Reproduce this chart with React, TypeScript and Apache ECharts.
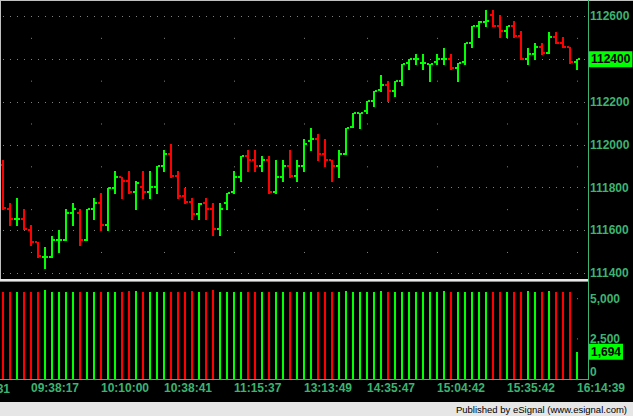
import React, { useEffect, useRef } from 'react';
import * as echarts from 'echarts';

// ---- data ----
const opens = [
  111905, 111700, 111655, 111655, 111600, 111545, 111475, 111475, 111555, 111555,
  111680, 111680, 111555, 111700, 111730, 111625, 111800, 111850, 111830, 111780,
  111805, 111780, 111805, 111900, 111955, 111855, 111760, 111735, 111675, 111730,
  111700, 111605, 111730, 111780, 111850, 111950, 111930, 111900, 111930, 111780,
  111850, 111900, 111855, 111900, 112020, 112025, 111955, 111930, 111900, 111955,
  112085, 112150, 112160, 112205, 112255, 112280, 112250, 112300, 112380, 112400,
  112380, 112375, 112385, 112400, 112400, 112360, 112385, 112475, 112555, 112575,
  112605, 112555, 112530, 112555, 112510, 112400, 112425, 112455, 112430, 112505,
  112475, 112455, 112385,
];
const highs = [
  111930, 111730, 111750, 111700, 111625, 111545, 111525, 111575, 111600, 111700,
  111730, 111700, 111700, 111750, 111775, 111800, 111880, 111850, 111880, 111830,
  111880, 111880, 111900, 111975, 112005, 111880, 111800, 111750, 111730, 111750,
  111730, 111730, 111775, 111880, 111950, 111975, 111975, 111950, 111950, 111930,
  111930, 111975, 111930, 112025, 112080, 112050, 112025, 111930, 111975, 112080,
  112150, 112150, 112205, 112250, 112325, 112300, 112300, 112375, 112400, 112425,
  112425, 112375, 112425, 112450, 112425, 112380, 112475, 112555, 112580, 112630,
  112630, 112605, 112555, 112580, 112530, 112450, 112475, 112475, 112525, 112525,
  112505, 112455, 112400,
];
const lows = [
  111700, 111625, 111625, 111605, 111530, 111475, 111425, 111475, 111500, 111555,
  111625, 111530, 111555, 111655, 111600, 111600, 111775, 111750, 111775, 111700,
  111750, 111750, 111775, 111880, 111850, 111750, 111730, 111655, 111655, 111655,
  111580, 111580, 111700, 111775, 111830, 111880, 111880, 111880, 111775, 111775,
  111830, 111850, 111830, 111880, 111975, 111930, 111900, 111830, 111850, 111955,
  112085, 112080, 112150, 112180, 112250, 112205, 112230, 112280, 112355, 112375,
  112355, 112300, 112375, 112375, 112355, 112300, 112375, 112455, 112505, 112555,
  112555, 112505, 112505, 112505, 112400, 112375, 112400, 112425, 112430, 112475,
  112455, 112380, 112355,
];
const closes = [
  111705, 111655, 111655, 111605, 111545, 111480, 111475, 111555, 111555, 111680,
  111700, 111555, 111700, 111730, 111625, 111800, 111850, 111830, 111780, 111820,
  111780, 111805, 111900, 111955, 111855, 111760, 111735, 111675, 111725, 111700,
  111605, 111700, 111775, 111850, 111950, 111930, 111900, 111930, 111780, 111850,
  111900, 111855, 111900, 112005, 112025, 111955, 111930, 111900, 111955, 112080,
  112150, 112150, 112205, 112250, 112280, 112250, 112300, 112375, 112400, 112400,
  112380, 112375, 112400, 112400, 112360, 112380, 112475, 112555, 112575, 112580,
  112555, 112530, 112555, 112510, 112400, 112425, 112455, 112430, 112505, 112475,
  112455, 112385, 112400,
];
const volumes = [
  5380, 5380, 5380, 5380, 5380, 5380, 5540, 5380, 5380, 5380,
  5380, 5380, 5380, 5380, 5380, 5380, 5380, 5380, 5460, 5460,
  5380, 5380, 5380, 5380, 5380, 5380, 5380, 5460, 5380, 5380,
  5540, 5380, 5380, 5380, 5380, 5380, 5380, 5380, 5380, 5380,
  5380, 5380, 5380, 5380, 5380, 5380, 5380, 5380, 5380, 5460,
  5380, 5380, 5380, 5380, 5460, 5380, 5380, 5380, 5380, 5380,
  5380, 5380, 5380, 5460, 5380, 5380, 5380, 5380, 5380, 5380,
  5380, 5380, 5380, 5380, 5380, 5460, 5380, 5380, 5460, 5380,
  5380, 5380, 1694,
];
const timeLabelBars = [4, 14, 23, 33, 43, 52, 62, 72, 82];
const timeLabels = ['09:38:17', '10:10:00', '10:38:41', '11:15:37', '13:13:49', '14:35:47', '15:04:42', '15:35:42', '16:14:39'];
const cutOffLabel = '09:09:31';
const priceTicks = [111400, 111600, 111800, 112000, 112200, 112400, 112600];
const volumeTicks = [0, 2500, 5000];
const footerText = 'Published by eSignal (www.esignal.com)';

// ---- styles ----
const GREEN = '#00ff00';
const RED = '#ff0000';
const AXIS = '#3cb371';
const GRID = '#808080';
const FONT = '"Liberation Sans", Arial, sans-serif';

export default function App() {
  const ref = useRef<HTMLDivElement>(null);

  useEffect(() => {
    const chart = echarts.init(ref.current as HTMLDivElement, null, { renderer: 'svg' });
    const n = closes.length;
    const ohlc = closes.map((c, i) => [i, opens[i], highs[i], lows[i], c]);
    const vol = volumes.map((v, i) => [i, v, closes[i] >= opens[i] ? 1 : 0]);
    const xMin = -3 / 7;
    const xMax = 84 - 3 / 7;
    const lastClose = closes[n - 1];
    const lastVol = volumes[n - 1];

    const labelFont = { color: AXIS, fontWeight: 'bold', fontSize: 12, fontFamily: FONT };
    const boxLabel = {
      show: true,
      position: 'end',
      distance: 1,
      backgroundColor: GREEN,
      color: '#000',
      fontWeight: 'bold',
      fontSize: 12,
      fontFamily: FONT,
      lineHeight: 12,
      padding: [2, 2, 2, 2],
      opacity: 1,
    };
    const hiddenLine = { color: 'rgba(0,0,0,0)', width: 1, type: 'solid' };

    const option: any = {
      animation: false,
      backgroundColor: '#000',
      grid: [
        { left: 0, right: 45, top: 2, height: 277 },
        { left: 0, right: 45, top: 283, height: 96 },
      ],
      xAxis: [
        {
          type: 'value', gridIndex: 0, min: xMin, max: xMax,
          axisLine: { show: false },
          axisTick: { show: false, customValues: timeLabelBars },
          axisLabel: { show: false },
          splitLine: { show: true, lineStyle: { color: GRID, width: 1, type: [1, 41.83], dashOffset: 7.03 } },
        },
        {
          type: 'value', gridIndex: 1, min: xMin, max: xMax,
          axisLine: { show: true, lineStyle: { color: AXIS, width: 1 } },
          axisTick: { show: false, customValues: timeLabelBars },
          axisLabel: {
            customValues: timeLabelBars,
            formatter: (v: number) => timeLabels[timeLabelBars.indexOf(v)] ?? '',
            align: 'left',
            margin: 3,
            ...labelFont,
          },
          splitLine: { show: true, lineStyle: { color: GRID, width: 1, type: [1, 39.2], dashOffset: 24.7 } },
        },
      ],
      yAxis: [
        {
          type: 'value', gridIndex: 0, position: 'right', min: 111373.4, max: 112666.8,
          axisLine: { show: false },
          axisTick: { show: false, customValues: priceTicks },
          axisLabel: { customValues: priceTicks, margin: 2, formatter: (v: number) => String(v), ...labelFont },
          splitLine: { show: true, lineStyle: { color: GRID, width: 1, type: [1, 6], dashOffset: 4 } },
        },
        {
          type: 'value', gridIndex: 1, position: 'right', min: 0, max: 5963,
          axisLine: { show: false },
          axisTick: { show: false, customValues: volumeTicks },
          axisLabel: {
            customValues: volumeTicks, margin: 2,
            formatter: (v: number) => (v === 0 ? '{z|0}' : v.toLocaleString('en-US')),
            rich: { z: { ...labelFont, padding: [0, 0, 14, 0] } },
            ...labelFont,
          },
          splitLine: { show: false },
        },
      ],
      series: [
        {
          type: 'custom',
          xAxisIndex: 0, yAxisIndex: 0,
          data: ohlc,
          encode: { x: 0, y: [1, 2, 3, 4] },
          renderItem: (_p: any, api: any) => {
            const i = api.value(0);
            const o = api.value(1), h = api.value(2), l = api.value(3), c = api.value(4);
            const cx = Math.round(api.coord([i, h])[0]);
            const yh = Math.round(api.coord([i, h])[1]);
            const yl = Math.round(api.coord([i, l])[1]);
            const yo = Math.round(api.coord([i, o])[1]);
            const yc = Math.round(api.coord([i, c])[1]);
            const color = c >= o ? GREEN : RED;
            const x0 = cx - 1;
            return {
              type: 'group',
              children: [
                { type: 'rect', shape: { x: x0, y: yh, width: 2, height: Math.max(2, yl - yh + 1) }, style: { fill: color } },
                { type: 'rect', shape: { x: x0 - 2, y: yo - 1, width: 2, height: 2 }, style: { fill: color } },
                { type: 'rect', shape: { x: x0 + 2, y: yc - 1, width: 2, height: 2 }, style: { fill: color } },
              ],
            };
          },
          z: 3,
        },
        {
          type: 'custom',
          xAxisIndex: 1, yAxisIndex: 1,
          data: vol,
          encode: { x: 0, y: 1 },
          renderItem: (_p: any, api: any) => {
            const i = api.value(0);
            const v = api.value(1);
            const up = api.value(2);
            const top = api.coord([i, v]);
            const base = api.coord([i, 0]);
            const cx = Math.round(top[0]);
            const yt = Math.round(top[1]);
            const yb = Math.round(base[1]);
            return {
              type: 'rect',
              shape: { x: cx - 1, y: yt, width: 2, height: yb - yt },
              style: { fill: up ? GREEN : RED },
            };
          },
          z: 3,
        },
        {
          // last-price marker on the price axis
          type: 'line',
          xAxisIndex: 0, yAxisIndex: 0,
          data: [],
          symbol: 'none',
          silent: true,
          markLine: {
            silent: true, symbol: ['none', 'none'], animation: false,
            lineStyle: hiddenLine,
            label: { ...boxLabel, formatter: () => String(lastClose) },
            emphasis: { disabled: true },
            data: [{ yAxis: lastClose }],
          },
          z: 10,
        },
        {
          // last-volume marker on the volume axis
          type: 'line',
          xAxisIndex: 1, yAxisIndex: 1,
          data: [],
          symbol: 'none',
          silent: true,
          markLine: {
            silent: true, symbol: ['none', 'none'], animation: false,
            lineStyle: hiddenLine,
            label: { ...boxLabel, formatter: () => lastVol.toLocaleString('en-US') },
            emphasis: { disabled: true },
            data: [{ yAxis: lastVol }],
          },
          z: 10,
        },
      ],
      graphic: [
        { type: 'rect', z: 100, shape: { x: 0, y: 0, width: 633, height: 1 }, style: { fill: '#c0c0c0' } },
        { type: 'rect', z: 100, shape: { x: 0, y: 0, width: 1, height: 282 }, style: { fill: '#c0c0c0' } },
        { type: 'rect', z: 100, shape: { x: 0, y: 279, width: 588, height: 2 }, style: { fill: '#e8e8e8' } },
        { type: 'rect', z: 100, shape: { x: 0, y: 281, width: 588, height: 1 }, style: { fill: '#8c8c8c' } },
        { type: 'line', z: 100, shape: { x1: 588.5, y1: 0, x2: 588.5, y2: 380 }, style: { stroke: AXIS, lineWidth: 1 } },
        {
          type: 'text', z: 100, x: 10, y: 389,
          style: { text: cutOffLabel, fill: AXIS, fontWeight: 'bold', fontSize: 12, fontFamily: FONT, align: 'right', verticalAlign: 'middle' },
        },
        { type: 'rect', z: 100, shape: { x: 0, y: 402, width: 633, height: 14 }, style: { fill: '#e6e6e6' } },
        {
          type: 'text', z: 101, x: 627, y: 409.5,
          style: { text: footerText, fill: '#000', fontSize: 9.5, fontFamily: FONT, align: 'right', verticalAlign: 'middle' },
        },
      ],
    };

    chart.setOption(option);
    return () => chart.dispose();
  }, []);

  return (
    <div
      ref={ref}
      style={{ position: 'fixed', left: 0, top: 0, width: 633, height: 416, background: '#000' }}
    />
  );
}
